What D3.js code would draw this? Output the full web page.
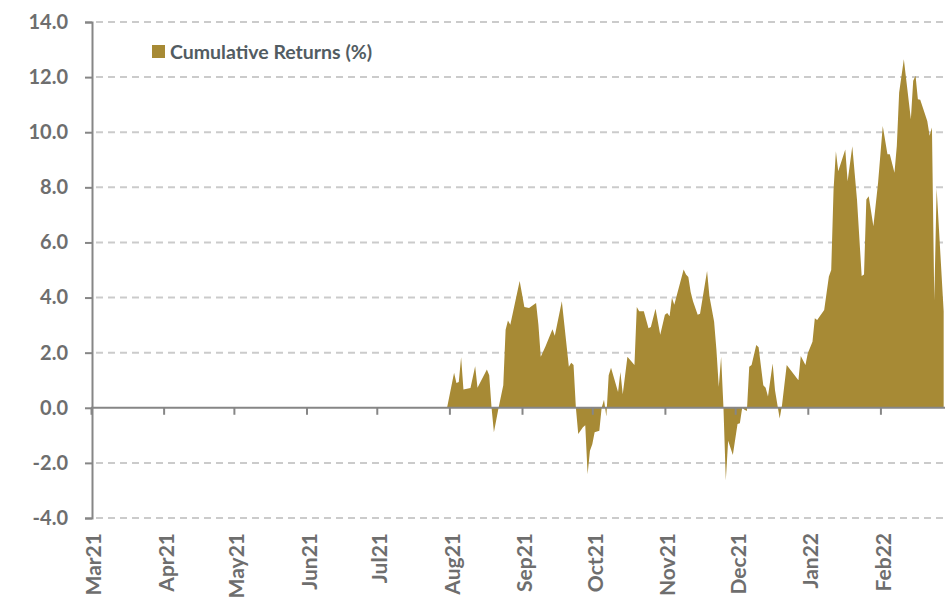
<!DOCTYPE html>
<html>
<head>
<meta charset="utf-8">
<script src="https://cdn.jsdelivr.net/npm/d3@7"></script>
<style>
  body { margin: 0; background: #fff; }
  text { font-family: Lato, "Liberation Sans", sans-serif; }
</style>
</head>
<body>
<div id="chart"></div>
<script>
// set the dimensions of the graph
const width = 945
const height = 599

// data
const dates = [
  "2021-07-31", "2021-08-03", "2021-08-04", "2021-08-05", "2021-08-06", "2021-08-07",
  "2021-08-10", "2021-08-12", "2021-08-13", "2021-08-17", "2021-08-18", "2021-08-19",
  "2021-08-20", "2021-08-22", "2021-08-24", "2021-08-25", "2021-08-26", "2021-08-27",
  "2021-08-31", "2021-09-02", "2021-09-04", "2021-09-07", "2021-09-08", "2021-09-09",
  "2021-09-11", "2021-09-14", "2021-09-15", "2021-09-18", "2021-09-21", "2021-09-22",
  "2021-09-23", "2021-09-24", "2021-09-25", "2021-09-27", "2021-09-28", "2021-09-29",
  "2021-09-30", "2021-10-01", "2021-10-02", "2021-10-04", "2021-10-05", "2021-10-06",
  "2021-10-07", "2021-10-08", "2021-10-09", "2021-10-12", "2021-10-13", "2021-10-14",
  "2021-10-16", "2021-10-19", "2021-10-20", "2021-10-21", "2021-10-23", "2021-10-25",
  "2021-10-26", "2021-10-28", "2021-10-30", "2021-11-01", "2021-11-02", "2021-11-03",
  "2021-11-04", "2021-11-05", "2021-11-09", "2021-11-10", "2021-11-11", "2021-11-12",
  "2021-11-13", "2021-11-15", "2021-11-16", "2021-11-19", "2021-11-20", "2021-11-22",
  "2021-11-23", "2021-11-24", "2021-11-25", "2021-11-26", "2021-11-27", "2021-11-28",
  "2021-11-30", "2021-12-02", "2021-12-03", "2021-12-04", "2021-12-05", "2021-12-06",
  "2021-12-07", "2021-12-08", "2021-12-10", "2021-12-11", "2021-12-13", "2021-12-14",
  "2021-12-15", "2021-12-17", "2021-12-18", "2021-12-20", "2021-12-21", "2021-12-23",
  "2021-12-28", "2021-12-29", "2021-12-31", "2022-01-01", "2022-01-03", "2022-01-04",
  "2022-01-05", "2022-01-08", "2022-01-10", "2022-01-11", "2022-01-12", "2022-01-13",
  "2022-01-14", "2022-01-17", "2022-01-18", "2022-01-20", "2022-01-22", "2022-01-24",
  "2022-01-25", "2022-01-26", "2022-01-27", "2022-01-29", "2022-01-31", "2022-02-02",
  "2022-02-04", "2022-02-05", "2022-02-07", "2022-02-08", "2022-02-09", "2022-02-11",
  "2022-02-14", "2022-02-15", "2022-02-16", "2022-02-17", "2022-02-18", "2022-02-21",
  "2022-02-22", "2022-02-23", "2022-02-24", "2022-02-25", "2022-02-28"
]
const returns = [
  0, 1.27, 0.90, 0.94, 1.83, 0.66,
  0.72, 1.51, 0.73, 1.39, 1.18, 0,
  -0.89, 0, 0.82, 2.83, 3.17, 3.01,
  4.60, 3.66, 3.62, 3.80, 3.01, 1.85,
  2.22, 2.85, 2.61, 3.87, 1.49, 1.63,
  1.55, 0, -0.95, -0.71, -0.63, -2.41,
  -1.56, -1.32, -0.89, -0.83, 0, 0.29,
  -0.32, 1.18, 1.45, 0.57, 1.30, 0.49,
  1.85, 1.55, 3.66, 3.50, 3.50, 2.89,
  2.93, 3.59, 2.65, 3.38, 3.44, 3.32,
  3.99, 3.74, 5.02, 4.84, 4.75, 4.20,
  3.87, 3.38, 3.41, 4.96, 4.05, 3.13,
  2.10, 0.76, 1.85, 0, -2.63, -1.20,
  -1.71, -0.59, -0.56, 0, -0.07, -0.12,
  1.49, 1.55, 2.28, 2.20, 0.82, 0.73,
  0.41, 1.61, 0.64, -0.39, 0.10, 1.55,
  1.00, 1.88, 1.55, 1.98, 2.40, 3.25,
  3.19, 3.55, 4.76, 5.00, 7.92, 9.31,
  8.58, 9.37, 8.22, 9.49, 7.56, 4.78,
  4.84, 7.56, 7.68, 6.59, 8.17, 10.23,
  9.20, 9.20, 8.53, 9.50, 11.44, 12.65,
  10.47, 11.87, 12.05, 11.20, 11.18, 10.41,
  9.87, 10.17, 3.90, 7.97, 3.50
]
const monthStarts = [
  "2021-03-01", "2021-04-01", "2021-05-01", "2021-06-01", "2021-07-01", "2021-08-01",
  "2021-09-01", "2021-10-01", "2021-11-01", "2021-12-01", "2022-01-01", "2022-02-01"
]
const monthLabels = ["Mar21", "Apr21", "May21", "Jun21", "Jul21", "Aug21",
  "Sep21", "Oct21", "Nov21", "Dec21", "Jan22", "Feb22"]
const yTicks = [-4, -2, 0, 2, 4, 6, 8, 10, 12, 14]
const seriesName = "Cumulative Returns (%)"

const parse = d3.timeParse("%Y-%m-%d")
const data = dates.map((d, i) => ({ date: parse(d), value: returns[i] }))
const months = monthStarts.map(parse)

const svg = d3.select("#chart")
    .append("svg")
    .attr("width", width)
    .attr("height", height)

const x = d3.scaleTime()
    .domain([parse("2021-03-01"), parse("2022-03-01")])
    .range([91, 946])

const y = d3.scaleLinear()
    .domain([-4, 14])
    .range([518, 22])

const gold = "#a78a35"
const axisGrey = "#868686"

// dashed gridlines
svg.append("g")
    .selectAll("line")
    .data(yTicks.filter(d => d != 0))
    .enter()
    .append("line")
    .attr("x1", 96)
    .attr("x2", 945)
    .attr("y1", d => y(d))
    .attr("y2", d => y(d))
    .style("stroke", "#cbcbcb")
    .style("stroke-width", 2)
    .style("stroke-dasharray", "7,5")

// the area
const area = d3.area()
    .x(d => x(d.date))
    .y0(y(0))
    .y1(d => y(d.value))

svg.append("path")
    .datum(data)
    .attr("d", area)
    .style("fill", gold)

// zero line with month ticks
const xAxis = svg.append("g")
    .attr("transform", "translate(0," + y(0) + ")")
    .call(d3.axisBottom(x).tickValues(months).tickSize(7).tickFormat(""))
xAxis.select(".domain").attr("d", "M91,0H946")
xAxis.selectAll("line, path").style("stroke", axisGrey).style("stroke-width", 2)

// month labels at the bottom
svg.append("g")
    .selectAll("text")
    .data(months)
    .enter()
    .append("text")
    .attr("transform", d => "translate(" + (x(d) + 3) + ",533) rotate(-90)")
    .attr("dy", "0.35em")
    .style("text-anchor", "end")
    .style("font-size", "21px")
    .style("font-weight", "bold")
    .style("fill", "#6e6e6e")
    .text((d, i) => monthLabels[i])

// y axis (plain hyphen for negatives, like the original)
const fmt = d => d.toFixed(1)
const yAxis = svg.append("g")
    .attr("transform", "translate(92,0)")
    .call(d3.axisLeft(y).tickValues(yTicks).tickSize(7).tickPadding(17).tickFormat(fmt))
yAxis.select(".domain").style("stroke", axisGrey).style("stroke-width", 2)
yAxis.selectAll(".tick line").style("stroke", axisGrey).style("stroke-width", 2)
yAxis.selectAll("text")
    .style("font-family", "Lato, sans-serif")
    .style("font-size", "20px")
    .style("font-weight", "bold")
    .style("fill", "#6e6e6e")

// legend
svg.append("rect")
    .attr("x", 152)
    .attr("y", 45)
    .attr("width", 13)
    .attr("height", 13)
    .style("fill", gold)

svg.append("text")
    .attr("x", 170)
    .attr("y", 52)
    .attr("dy", "0.35em")
    .text(seriesName)
    .style("font-size", "19.5px")
    .style("font-weight", "bold")
    .style("fill", "#525c62")
</script>
</body>
</html>
